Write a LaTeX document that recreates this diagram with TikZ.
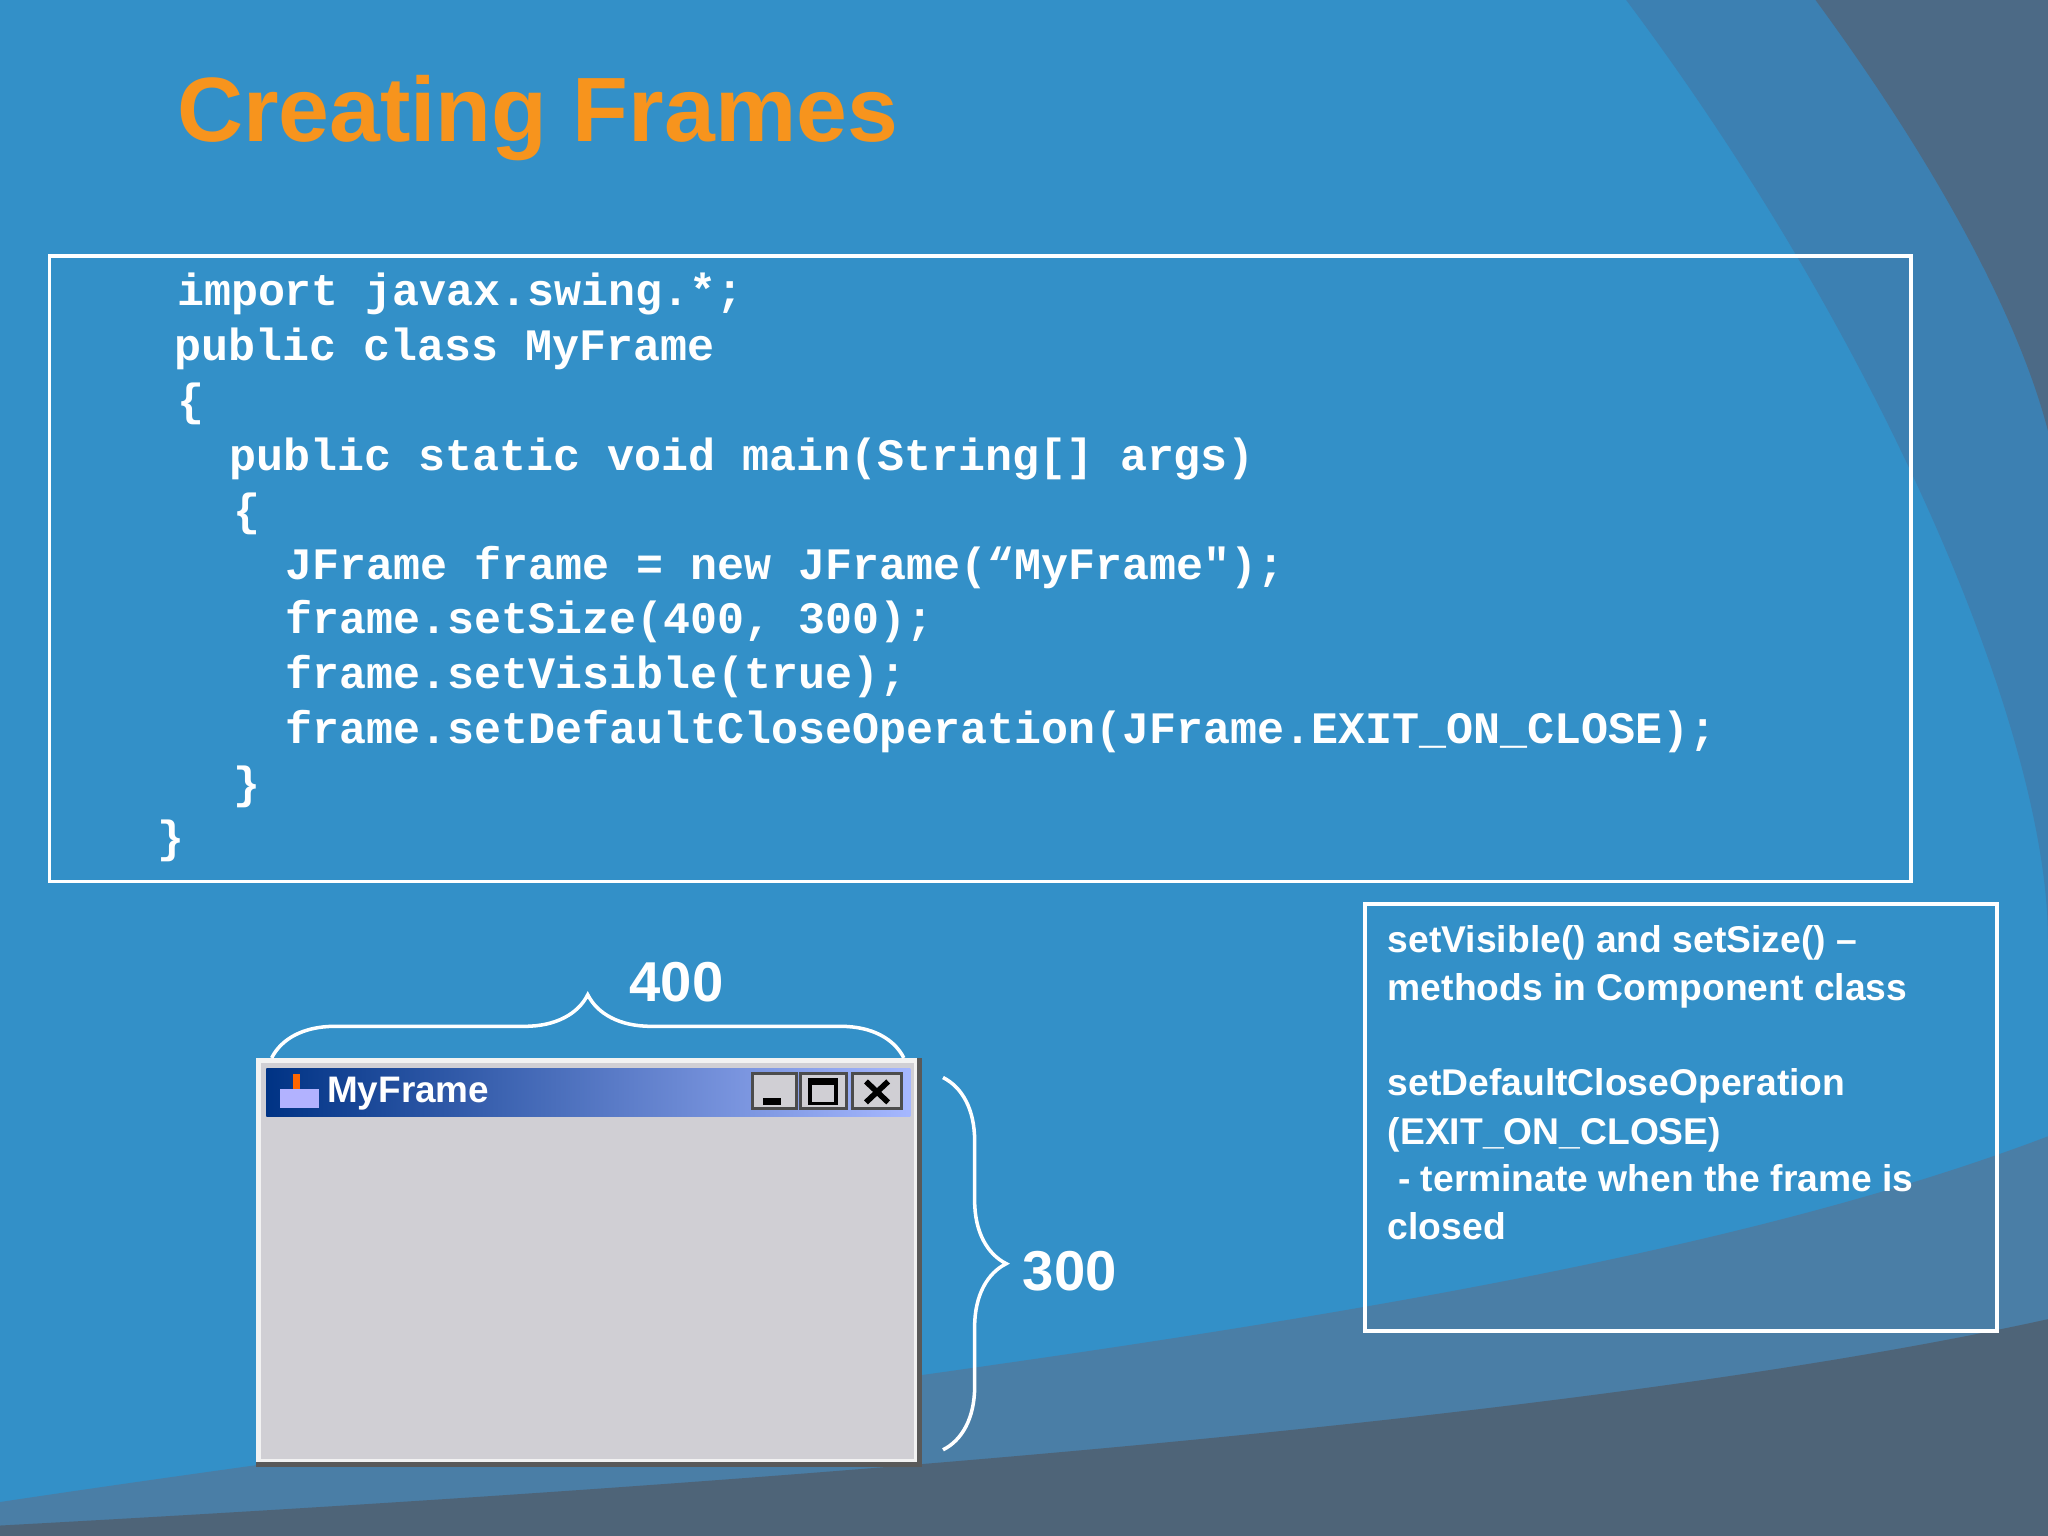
\documentclass[tikz,border=0pt]{standalone}
\usepackage{fontspec}
\setmainfont{Liberation Sans}
\newfontfamily\codefont{Liberation Mono}
\usetikzlibrary{decorations.pathreplacing}
\definecolor{bg}{HTML}{3390C8}
\definecolor{shA}{HTML}{3C80B2}
\definecolor{shB}{HTML}{4C6A86}
\definecolor{bandA}{HTML}{4A7EA6}
\definecolor{bandB}{HTML}{4E6478}
\definecolor{ttl}{HTML}{F7941D}
\definecolor{winbg}{HTML}{D0CFD4}
\tikzset{
 code/.style={anchor=base west,text=white,font=\codefont\bfseries\fontsize{12.8}{14}\selectfont,inner sep=0},
 note/.style={anchor=base west,text=white,font=\bfseries\fontsize{10.6}{12}\selectfont,inner sep=0},
 dim/.style={text=white,font=\bfseries\fontsize{16}{18}\selectfont},
 br/.style={draw=white,line width=1pt,decorate,decoration={brace,amplitude=18pt}},
 btn/.style={draw=black!70,fill=winbg,line width=0.8pt}
}
\begin{document}
\begin{tikzpicture}[x=0.013061cm,y=-0.013061cm]
\useasboundingbox (0,0) rectangle (1568,1176);
\fill[bg] (0,0) rectangle (1568,1176);
\fill[shA] (1245,0) .. controls (1440,260) and (1568,560) .. (1568,720) -- (1568,0) -- cycle;
\fill[shB] (1390,0) .. controls (1500,150) and (1550,260) .. (1568,330) -- (1568,0) -- cycle;
\fill[bandA] (0,1150) .. controls (600,1060) and (1200,1010) .. (1568,870) -- (1568,1176) -- (0,1176) -- cycle;
\fill[bandB] (0,1176) -- (0,1168) .. controls (700,1130) and (1250,1080) .. (1568,1010) -- (1568,1176) -- cycle;
\node[anchor=base west,text=ttl,font=\bfseries\fontsize{26}{30}\selectfont,inner sep=0] (title) at (135,108) {Creating Frames};
\draw[white,line width=1pt] (38,196) rectangle (1463,675);
\node[code] (c1) at (135,234) {import javax.swing.*;};
\node[code] (c2) at (133,276) {public class MyFrame};
\node[code] (c3) at (135,318) {\{};
\node[code] (c4) at (175,360) {public static void main(String[] args)};
\node[code] (c5) at (178,402) {\{};
\node[code] (c6) at (218,444) {JFrame frame = new JFrame(“MyFrame");};
\node[code] (c7) at (218,485) {frame.setSize(400, 300);};
\node[code] (c8) at (218,527) {frame.setVisible(true);};
\node[code] (c9) at (218,569) {frame.setDefaultCloseOperation(JFrame.EXIT\_ON\_CLOSE);};
\node[code] (c10) at (178,611) {\}};
\node[code] (c11) at (120,653) {\}};
\draw[white,line width=1pt] (1045,692) rectangle (1529,1019);
\node[note] (n1) at (1062,729) {setVisible() and setSize() –};
\node[note] (n2) at (1062,766) {methods in Component class};
\node[note] (n3) at (1062,839) {setDefaultCloseOperation};
\node[note] (n4) at (1062,876) {(EXIT\_ON\_CLOSE)};
\node[note] (n5) at (1062,912) {\ - terminate when the frame is};
\node[note] (n6) at (1062,949) {closed};
% window
\fill[black!65] (196,810) rectangle (706,1123);
\fill[white!90!gray] (196,810) rectangle (702,1119);
\fill[winbg] (200,814) rectangle (700,1117);
\shade[left color=blue!40!black!80!cyan,right color=cyan!20!blue!35!white] (204,818) rectangle (697,855);
\node[anchor=west,text=white,font=\bfseries\fontsize{10.5}{12}\selectfont,inner sep=0] (wt) at (250,837) {MyFrame};
\fill[orange!80!red] (224,822) rectangle (230,834);
\fill[blue!30!white] (214,834) rectangle (244,848);
\draw[btn] (576,822) rectangle (610,849);
\draw[black,line width=2pt] (584,843) -- (598,843);
\draw[btn] (613,822) rectangle (648,849);
\draw[black,line width=1pt] (620,827) rectangle (640,845); \draw[black,line width=2pt] (620,828) -- (640,828);
\draw[btn] (653,822) rectangle (690,849);
\draw[black,line width=1.6pt] (663,828) -- (680,844) (663,844) -- (680,828);
\coordinate (tl) at (208,810); \coordinate (tr) at (692,810);
\draw[br] (tl) -- (tr);
\coordinate (rt) at (722,825); \coordinate (rb) at (722,1110);
\draw[br] (rt) -- (rb);
\node[dim] (w) at (518,752) {400};
\node[dim] (h) at (819,973) {300};
\end{tikzpicture}
\end{document}
